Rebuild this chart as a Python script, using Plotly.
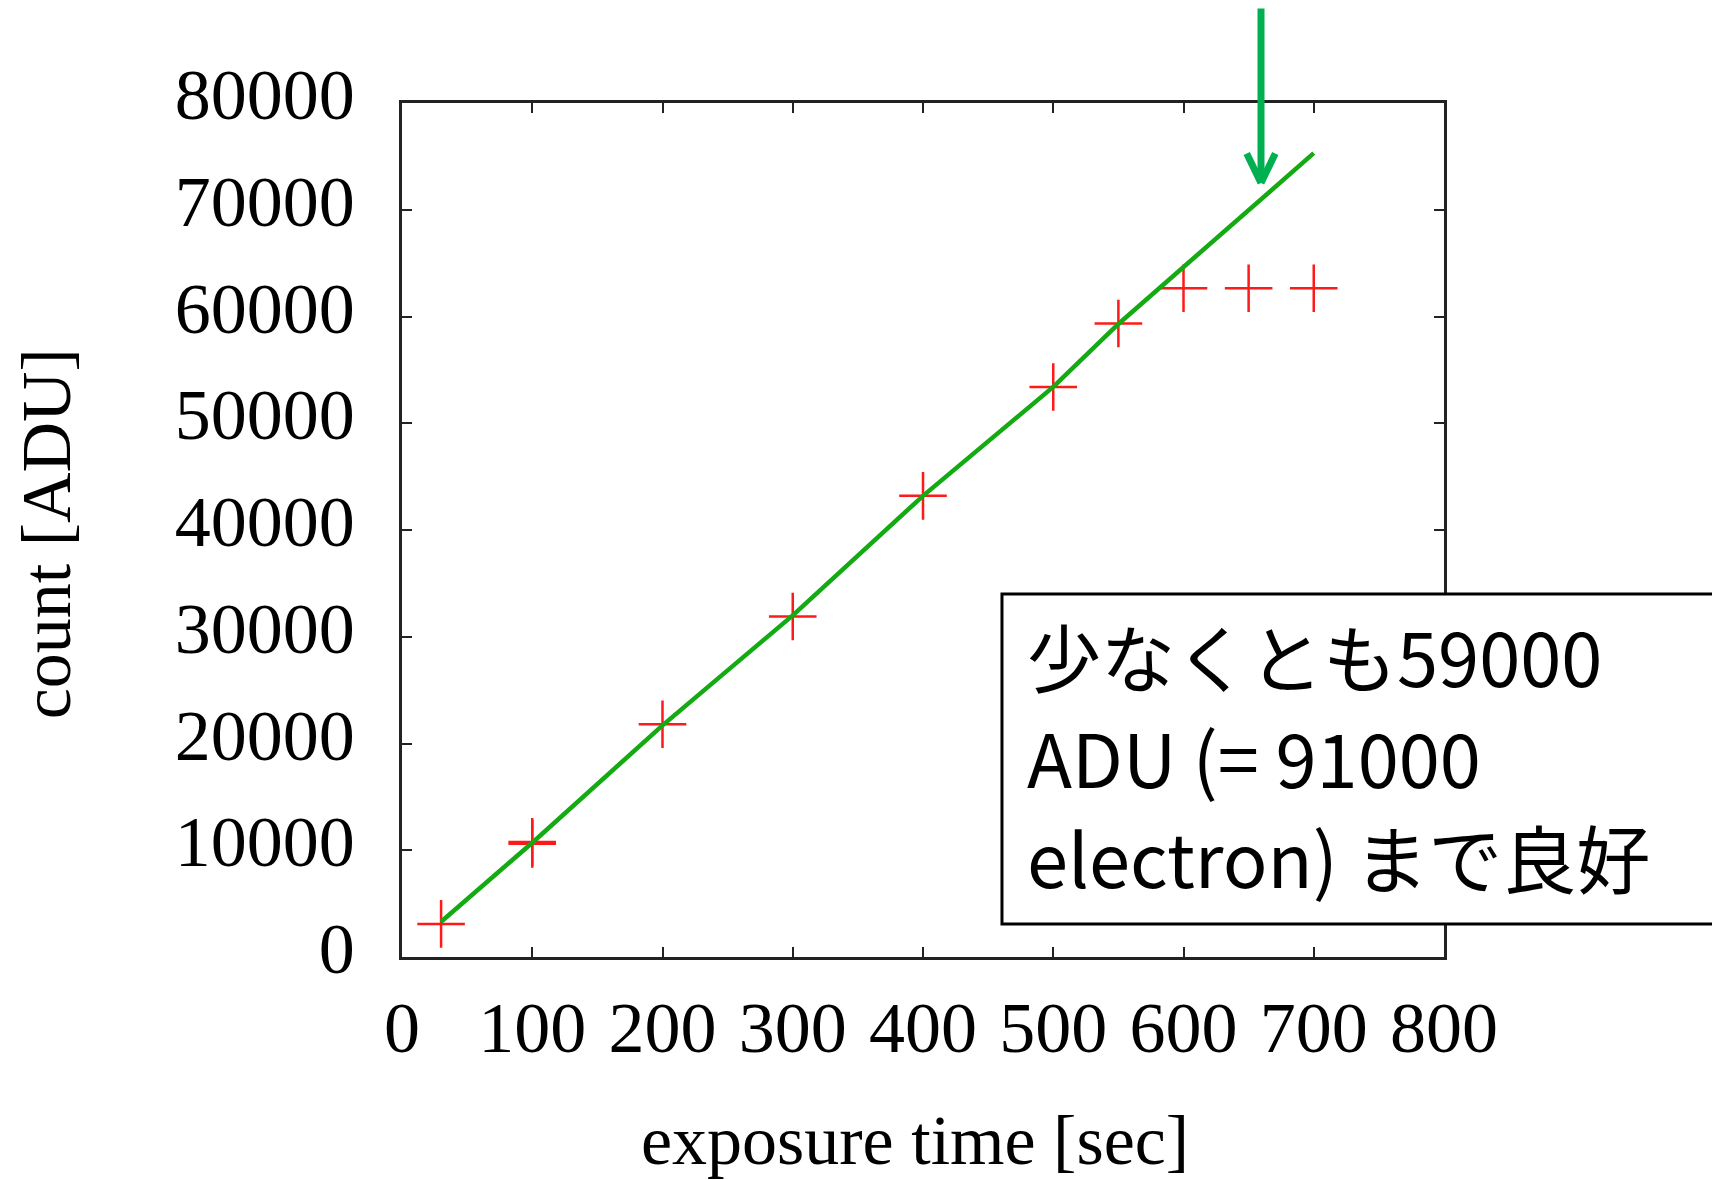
import plotly.graph_objects as go

# Measured counts (red crosses); two exposures were taken at 100 s
exposure_sec = [30, 100, 100, 200, 300, 400, 500, 550, 600, 650, 700]
count_adu = [3100, 10600, 10780, 21800, 31900, 43200, 53400, 59350, 62650, 62650, 62650]

# Linear reference curve (green)
fit_sec = [30, 100, 200, 300, 400, 500, 550, 600, 650, 700]
fit_adu = [3300, 10700, 21700, 32000, 43200, 53400, 59300, 64600, 70000, 75300]

x_ticks = [0, 100, 200, 300, 400, 500, 600, 700, 800]
y_ticks = [0, 10000, 20000, 30000, 40000, 50000, 60000, 70000, 80000]

note_lines = ["少なくとも59000", "ADU (= 91000", "electron) まで良好"]
saturation_mark = (659.5, 72500)

SERIF = "Liberation Serif, Times New Roman, serif"
SANS_JP = "Noto Sans CJK JP, sans-serif"
ARROW_GREEN = "#00B050"

fig = go.Figure()

fig.add_trace(go.Scatter(
    x=exposure_sec, y=count_adu, mode="markers",
    marker=dict(symbol="cross-thin", size=34, line=dict(color="#ff1a1a", width=2.5)),
    showlegend=False, hoverinfo="skip",
))
fig.add_trace(go.Scatter(
    x=fit_sec, y=fit_adu, mode="lines",
    line=dict(color="#13aa13", width=4.5),
    showlegend=False, hoverinfo="skip",
))

axis_common = dict(
    showline=True, linecolor="#222222", linewidth=2.5, mirror="ticks",
    ticks="inside", ticklen=10, tickwidth=2, tickcolor="#222222",
    showgrid=False, zeroline=False,
    tickfont=dict(family=SERIF, size=72, color="black"),
)

fig.update_xaxes(range=[0, 800], tickvals=x_ticks, ticktext=[str(v) for v in x_ticks],
                 ticklabelstandoff=6, **axis_common)
fig.update_yaxes(range=[0, 80000], tickvals=y_ticks, ticktext=[str(v) for v in y_ticks],
                 ticklabelstandoff=30, ticklabelshift=-9, **axis_common)

annotations = [
    # axis titles
    dict(text="exposure time [sec]", xref="paper", yref="paper", x=0.4923, y=-0.2143,
         xanchor="center", yanchor="middle", showarrow=False,
         font=dict(family=SERIF, size=70, color="black")),
    dict(text="count [ADU]", xref="paper", yref="paper", x=-0.3417, y=0.496,
         xanchor="center", yanchor="middle", showarrow=False, textangle=-90,
         font=dict(family=SERIF, size=70, color="black")),
]

# green arrow: shaft plus two barbs meeting at the tip
mx, my = saturation_mark
for ax, ay in [(0, -176), (-15, -31), (15, -31)]:
    annotations.append(dict(
        x=mx, y=my, xref="x", yref="y", ax=ax, ay=ay, axref="pixel", ayref="pixel",
        text="", showarrow=True, arrowhead=0, arrowwidth=7, arrowcolor=ARROW_GREEN,
    ))

# note text inside the box
for line, ypos in zip(note_lines, [0.3545, 0.2365, 0.1185]):
    annotations.append(dict(
        text=line, xref="paper", yref="paper", x=0.5975, y=ypos,
        xanchor="left", yanchor="middle", showarrow=False,
        font=dict(family=SANS_JP, size=74, color="black"),
    ))

fig.update_layout(
    width=1712, height=1180,
    margin=dict(l=402, r=268, t=103, b=223, pad=0),
    paper_bgcolor="white", plot_bgcolor="white",
    annotations=annotations,
    shapes=[dict(type="rect", xref="paper", yref="paper",
                 x0=0.5758, x1=1.3, y0=0.0386, y1=0.425,
                 line=dict(color="black", width=3), fillcolor="white", layer="above")],
)

fig.write_html("out.html")
